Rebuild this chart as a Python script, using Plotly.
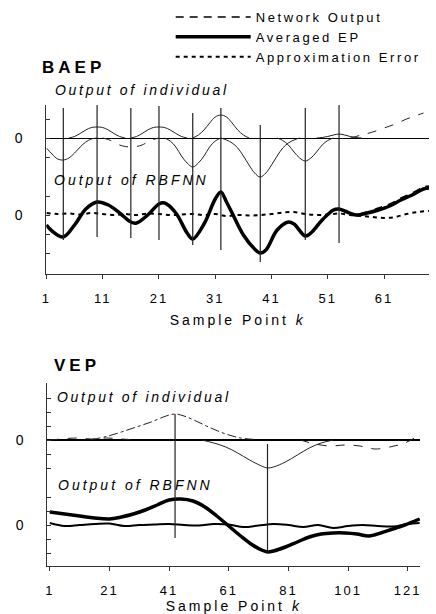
import plotly.graph_objects as go

W, H = 436, 614
FONT = "Liberation Sans, Arial, sans-serif"


def sp(text, px):
    return f'<span style="letter-spacing:{px}px">{text}</span>'


def py(p):
    return 1 - p / H


def px_(p):
    return p / W


# ---------------- BAEP data ----------------
baep_ticks = [1, 11, 21, 31, 41, 51, 61]
baep_centers = [4, 10, 16, 21, 27, 32, 39, 47, 53]

# individual RBF outputs
baep_ind_x = [
    [1, 2, 3, 4, 5, 6, 7, 8, 9, 10],
    [5, 6, 7, 8, 9, 10, 11, 12, 13, 14, 15],
    [11, 12, 13, 14, 15, 16, 17, 18, 19, 20, 21],
    [16, 17, 18, 19, 20, 21, 22, 23, 24, 25, 26],
    [22, 23, 24, 25, 26, 27, 28, 29, 30, 31, 32],
    [27, 28, 29, 30, 31, 32, 33, 34, 35, 36, 37],
    [32, 33, 34, 35, 36, 37, 38, 39, 40, 41, 42, 43, 44, 45, 46],
    [42, 43, 44, 45, 46, 47, 48, 49, 50, 51, 52],
    [49, 50, 51, 52, 53, 54, 55, 56, 57],
    [55, 57, 59, 61, 63, 65, 67, 68],
]
baep_ind_y = [
    [-1.0, -1.6, -2.1, -2.2, -2.0, -1.5, -0.9, -0.4, -0.1, 0.0],
    [0.0, 0.15, 0.45, 0.8, 1.05, 1.1, 1.05, 0.8, 0.45, 0.15, 0.0],
    [0.0, -0.15, -0.4, -0.7, -0.85, -0.9, -0.85, -0.7, -0.4, -0.15, 0.0],
    [0.0, 0.15, 0.45, 0.8, 1.05, 1.1, 1.05, 0.8, 0.45, 0.15, 0.0],
    [0.0, -0.3, -0.9, -1.8, -2.5, -2.9, -2.5, -1.8, -0.9, -0.3, 0.0],
    [0.0, 0.3, 0.8, 1.5, 2.1, 2.3, 2.1, 1.5, 0.8, 0.3, 0.0],
    [0.0, -0.2, -0.5, -1.0, -1.8, -2.7, -3.5, -3.9, -3.5, -2.7, -1.8, -1.0, -0.5, -0.2, 0.0],
    [0.0, -0.25, -0.7, -1.4, -2.0, -2.3, -2.0, -1.4, -0.7, -0.25, 0.0],
    [0.0, 0.05, 0.15, 0.3, 0.4, 0.3, 0.15, 0.05, 0.0],
    [0.0, 0.3, 0.6, 1.0, 1.4, 1.9, 2.3, 2.5],
]
baep_ind_dash = ["solid", "solid", "dash", "solid", "solid", "solid", "solid", "solid", "solid", "dash"]

baep_k = [1, 2, 4, 6, 8, 10, 12, 14, 16, 17, 19, 21, 22, 24, 26, 27, 29, 31, 32, 33, 34, 36,
          38, 39, 40, 42, 44, 45, 47, 48, 50, 52, 53, 54, 56, 58, 60, 62, 64, 66, 68, 69]
baep_avg = [-1.0, -1.6, -2.2, -1.0, 0.6, 1.3, 1.0, 0.2, -0.7, -0.8, 0.0, 1.1, 1.2, 0.2, -1.8, -2.4,
            -0.9, 1.6, 2.3, 1.3, 0.2, -2.0, -3.4, -3.8, -3.5, -1.5, -0.7, -0.9, -2.1, -1.8, -0.5,
            0.5, 0.6, 0.4, 0.0, 0.2, 0.5, 0.9, 1.5, 2.0, 2.6, 2.7]
baep_net = [-1.0, -1.6, -2.2, -1.0, 0.6, 1.3, 1.0, 0.2, -0.7, -0.8, 0.0, 1.1, 1.2, 0.2, -1.8, -2.4,
            -0.9, 1.6, 2.3, 1.3, 0.2, -2.0, -3.4, -3.8, -3.5, -1.5, -0.7, -0.9, -2.1, -1.8, -0.5,
            0.5, 0.6, 0.4, 0.1, 0.3, 0.7, 1.1, 1.7, 2.2, 2.8, 2.9]
baep_err_k = [1, 3, 5, 7, 9, 11, 13, 15, 17, 19, 21, 23, 25, 27, 29, 31, 33, 35, 37, 39, 41, 43,
              45, 47, 49, 51, 53, 55, 57, 59, 61, 63, 65, 67, 69]
baep_err = [0.2, 0.1, 0.15, 0.05, 0.2, 0.1, 0.0, 0.1, 0.0, 0.15, 0.1, 0.0, 0.05, 0.1, 0.0, 0.1,
            -0.1, 0.0, -0.05, 0.0, 0.1, 0.25, 0.3, 0.1, 0.0, 0.05, 0.15, 0.0, -0.1, -0.2, -0.3,
            -0.2, 0.1, 0.3, 0.4]

# ---------------- VEP data ----------------
vep_ticks = [1, 21, 41, 61, 81, 101, 121]
vep_centers = [43, 74]
vep_ind_x = [
    [15, 20, 25, 30, 35, 40, 43, 46, 50, 55, 60, 65, 70],
    [52, 56, 60, 64, 68, 72, 74, 76, 80, 84, 88, 92, 96],
    [1, 5, 10, 15, 20, 25, 30],
    [85, 90, 95, 100, 105, 110, 115, 120, 125],
]
vep_ind_y = [
    [0.05, 0.35, 0.8, 1.3, 1.8, 2.4, 2.6, 2.4, 1.9, 1.2, 0.6, 0.2, 0.05],
    [0.0, -0.3, -0.7, -1.3, -2.0, -2.6, -2.8, -2.7, -2.2, -1.5, -0.8, -0.3, 0.0],
    [0.0, 0.1, 0.2, 0.1, 0.2, 0.1, 0.0],
    [0.0, -0.4, -0.6, -0.5, -0.6, -0.9, -0.7, -0.3, 0.5],
]
vep_ind_dash = ["dashdot", "solid", "dash", "dash"]

vep_k = [1, 6, 11, 16, 21, 25, 29, 33, 37, 41, 45, 49, 53, 57, 61, 65, 69, 72, 74, 76, 80, 84,
         88, 92, 96, 100, 104, 108, 112, 116, 120, 125]
vep_avg = [1.3, 1.1, 0.9, 0.7, 0.6, 0.8, 1.1, 1.5, 2.0, 2.5, 2.6, 2.4, 1.8, 0.9, -0.1, -1.1, -2.0,
           -2.5, -2.7, -2.6, -2.2, -1.7, -1.2, -0.9, -0.8, -0.8, -0.9, -1.1, -0.8, -0.4, 0.0, 0.6]
vep_net = [1.3, 1.1, 0.9, 0.7, 0.6, 0.8, 1.1, 1.5, 2.0, 2.5, 2.6, 2.4, 1.8, 0.9, -0.1, -1.1, -2.0,
           -2.5, -2.7, -2.6, -2.2, -1.7, -1.2, -0.9, -0.8, -0.8, -0.9, -1.1, -0.8, -0.4, 0.0, 0.6]
vep_err_k = [1, 6, 11, 16, 21, 26, 31, 36, 41, 46, 51, 56, 61, 66, 71, 76, 81, 86, 91, 96, 101,
             106, 111, 116, 121, 125]
vep_err = [0.2, -0.1, 0.0, 0.1, 0.15, -0.1, 0.0, 0.05, 0.1, 0.0, -0.05, 0.1, 0.05, -0.2, -0.05,
           0.1, 0.0, -0.2, 0.0, -0.3, -0.1, 0.0, -0.1, -0.15, 0.1, 0.2]

fig = go.Figure()

for xs, ys, d in zip(baep_ind_x, baep_ind_y, baep_ind_dash):
    fig.add_trace(go.Scatter(x=xs, y=ys, mode="lines", line=dict(color="#222", width=1, dash=d, shape="spline"),
                             xaxis="x", yaxis="y", showlegend=False, hoverinfo="skip"))

fig.add_trace(go.Scatter(x=baep_k, y=baep_avg, mode="lines", name=sp("Averaged EP", 2.6),
                         line=dict(color="black", width=3.5, shape="spline"), xaxis="x", yaxis="y2",
                         legendrank=2))
fig.add_trace(go.Scatter(x=baep_k, y=baep_net, mode="lines", name=sp("Network Output", 2.6),
                         line=dict(color="black", width=1.5, dash="8px,6px", shape="spline"), xaxis="x", yaxis="y2",
                         legendrank=1))
fig.add_trace(go.Scatter(x=baep_err_k, y=baep_err, mode="lines", name=sp("Approximation Error", 2.6),
                         line=dict(color="black", width=2, dash="4px,4px", shape="spline"), xaxis="x", yaxis="y2",
                         legendrank=3))

for xs, ys, d in zip(vep_ind_x, vep_ind_y, vep_ind_dash):
    fig.add_trace(go.Scatter(x=xs, y=ys, mode="lines", line=dict(color="#222", width=1, dash=d, shape="spline"),
                             xaxis="x2", yaxis="y3", showlegend=False, hoverinfo="skip"))
fig.add_trace(go.Scatter(x=vep_k, y=vep_avg, mode="lines", line=dict(color="black", width=3.5, shape="spline"),
                         xaxis="x2", yaxis="y4", showlegend=False))
fig.add_trace(go.Scatter(x=vep_k, y=vep_net, mode="lines", line=dict(color="black", width=1.5, dash="8px,6px", shape="spline"),
                         xaxis="x2", yaxis="y4", showlegend=False))
fig.add_trace(go.Scatter(x=vep_err_k, y=vep_err, mode="lines", line=dict(color="black", width=2, shape="spline"),
                         xaxis="x2", yaxis="y4", showlegend=False))

# center marker lines (style positions)
baep_line_top = [108, 105, 108, 106, 113, 108, 125, 108, 105]
baep_line_bot = [240, 237, 238, 240, 245, 250, 262, 240, 243]
shapes = []
for c, t, b in zip(baep_centers, baep_line_top, baep_line_bot):
    shapes.append(dict(type="line", xref="x", yref="paper", x0=c, x1=c, y0=py(b), y1=py(t),
                       line=dict(color="#222", width=1.2)))
vep_line_top = [414, 444]
vep_line_bot = [538, 553]
for c, t, b in zip(vep_centers, vep_line_top, vep_line_bot):
    shapes.append(dict(type="line", xref="x2", yref="paper", x0=c, x1=c, y0=py(b), y1=py(t),
                       line=dict(color="#222", width=1.2)))

tickfont = dict(family=FONT, size=13, color="black")
xcommon = dict(showgrid=False, zeroline=False, showline=True, linecolor="#333", linewidth=1,
               ticks="outside", ticklen=4, tickcolor="#333", tickfont=tickfont, ticklabelstandoff=8)
ycommon = dict(showgrid=False, showline=True, linecolor="#333", linewidth=1, ticks="inside",
               ticklen=4, tickcolor="#333", tickfont=dict(family=FONT, size=14, color="black"),
               ticklabelstandoff=20, fixedrange=True)

fig.update_layout(
    width=W, height=H, margin=dict(l=0, r=0, t=0, b=0),
    paper_bgcolor="white", plot_bgcolor="white",
    font=dict(family=FONT, color="black"),
    showlegend=True,
    legend=dict(x=px_(168), y=py(2), xanchor="left", yanchor="top", bgcolor="rgba(0,0,0,0)",
                font=dict(family=FONT, size=13, color="black"), itemwidth=75, tracegroupgap=0),
    xaxis=dict(domain=[px_(42), px_(430)], range=[1, 69], anchor="y2",
               tickvals=baep_ticks, ticktext=[sp(str(t), 2) for t in baep_ticks],
               title=dict(text=sp("Sample Point <i>k</i>", 3), font=dict(family=FONT, size=14), standoff=10),
               **xcommon),
    yaxis=dict(domain=[py(178), py(105)], range=[-4.0, 3.3], anchor="x",
               tickvals=[-1.9, 0, 1.9], ticktext=["", "0", ""],
               zeroline=True, zerolinecolor="black", zerolinewidth=1, **ycommon),
    yaxis2=dict(domain=[py(274), py(178)], range=[-5.9, 3.7], anchor="x",
                tickvals=[-3.8, -1.9, 0, 1.9], ticktext=["", "", "0", ""], zeroline=False, **ycommon),
    xaxis2=dict(domain=[px_(43), px_(421)], range=[0.2, 125.2], anchor="y4",
                tickvals=vep_ticks, ticktext=[sp(str(t), 2) for t in vep_ticks],
                title=dict(text=sp("Sample Point <i>k</i>", 3), font=dict(family=FONT, size=14), standoff=0),
                **xcommon),
    yaxis3=dict(domain=[py(480), py(383)], range=[-4.0, 5.7], anchor="x2",
                tickvals=[-2.8, -1.4, 0, 1.4, 2.8, 4.2], ticktext=["", "", "0", "", "", ""],
                zeroline=True, zerolinecolor="black", zerolinewidth=1.5, **ycommon),
    yaxis4=dict(domain=[py(566), py(480)], range=[-4.1, 4.5], anchor="x2",
                tickvals=[-2.8, -1.4, 0, 1.4, 2.8], ticktext=["", "", "0", "", ""], zeroline=False, **ycommon),
    shapes=shapes,
)

ann = [
    ("BAEP", 35, 67, 17, True, False, 4),
    ("Output of individual", 49, 90, 14, False, True, 2.7),
    ("Output of RBFNN", 48, 180, 14, False, True, 3),
    ("VEP", 48, 365, 17, True, False, 4),
    ("Output of individual", 51, 397, 14, False, True, 2.7),
    ("Output of RBFNN", 52, 485, 14, False, True, 3),
]
for text, x, y, size, bold, ital, ls in ann:
    t = sp(text, ls)
    if bold:
        t = f"<b>{t}</b>"
    if ital:
        t = f"<i>{t}</i>"
    fig.add_annotation(x=px_(x), y=py(y), xref="paper", yref="paper", text=t, showarrow=False,
                       xanchor="left", yanchor="middle", font=dict(family=FONT, size=size, color="black"))

fig.write_html("out.html", config={"displayModeBar": False},
               post_script="document.body.style.margin='0';document.body.style.overflow='hidden';")
